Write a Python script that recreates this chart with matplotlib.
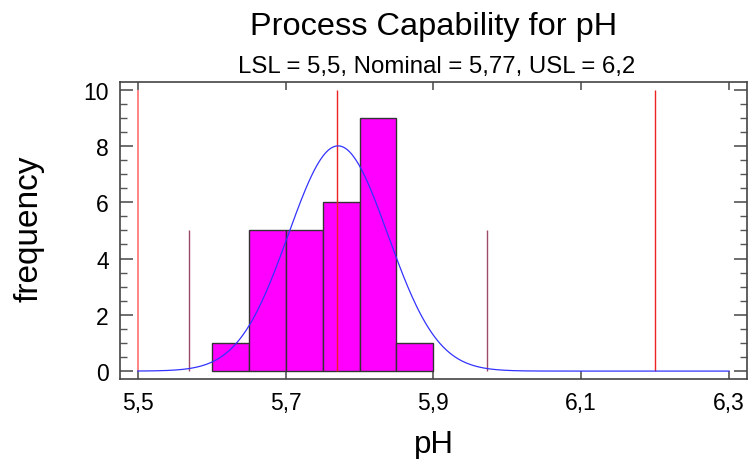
import numpy as np
import matplotlib
matplotlib.use("Agg")
import matplotlib.pyplot as plt

plt.rcParams['font.family'] = ['Liberation Sans', 'DejaVu Sans']

# Data
bin_edges = [5.60, 5.65, 5.70, 5.75, 5.80, 5.85, 5.90]
counts = [1, 5, 5, 6, 9, 1]
n_obs = 27
mean = 5.771
sigma = 0.0673
lsl, nominal, usl = 5.5, 5.77, 6.2
xticks = [5.5, 5.7, 5.9, 6.1, 6.3]
xtick_labels = ["5,5", "5,7", "5,9", "6,1", "6,3"]
yticks = [0, 2, 4, 6, 8, 10]

fig = plt.figure(figsize=(7.49, 4.60), dpi=100)
ax = fig.add_axes([0.160, 0.174, 0.837, 0.646])

widths = np.diff(bin_edges)
ax.bar(bin_edges[:-1], counts, width=widths, align='edge', color='#FF00FF',
       edgecolor='#333333', linewidth=1.0, zorder=2)

# fitted normal curve
xs = np.linspace(lsl, 6.3, 400)
bw = widths[0]
ys = n_obs * bw / (sigma * np.sqrt(2 * np.pi)) * np.exp(-0.5 * ((xs - mean) / sigma) ** 2)
ax.plot(xs, ys, color='#3333FF', linewidth=0.9, zorder=4)

# spec lines
ax.vlines([lsl], 0, 10, color='#FF7070', linewidth=1.2, zorder=3)
ax.vlines([nominal, usl], 0, 10, color='#EE2222', linewidth=1.0, zorder=3)
ax.vlines([mean - 3 * sigma, mean + 3 * sigma], 0, 5, color='#9B4A6A', linewidth=1.0, zorder=3)

ax.set_xlim(5.4757, 6.324)
ax.set_ylim(-0.28, 10.28)
ax.set_xticks(xticks)
ax.set_xticklabels(xtick_labels)
ax.set_yticks(yticks)
ax.set_yticks(np.arange(0, 10.01, 0.5), minor=True)
ax.tick_params(axis='both', which='both', direction='in', top=True, right=True,
               labelsize=16.5, colors='#555555', labelcolor='black')
ax.tick_params(axis='x', which='major', length=6, width=1.2, pad=9)
ax.tick_params(axis='y', which='major', length=9.4, width=1.2, pad=8)
ax.tick_params(axis='y', which='minor', length=5, width=1.0)
ax.tick_params(axis='x', which='minor', length=0)
for s in ax.spines.values():
    s.set_color('#444444')
    s.set_linewidth(1.2)

fig.text(433.5 / 749, 1 - 453 / 460, 'pH', ha='center', va='baseline', fontsize=22.5)
fig.text(29 / 749, 1 - 229 / 460, 'frequency', ha='center', va='center',
         rotation=90, fontsize=24)
fig.text(433.5 / 749, 1 - 35 / 460, 'Process Capability for pH', ha='center', va='baseline', fontsize=23.4)
fig.text(437 / 749, 1 - 73 / 460, 'LSL = 5,5, Nominal = 5,77, USL = 6,2', ha='center', va='baseline', fontsize=17.3)

fig.savefig('out.png', dpi=100)
